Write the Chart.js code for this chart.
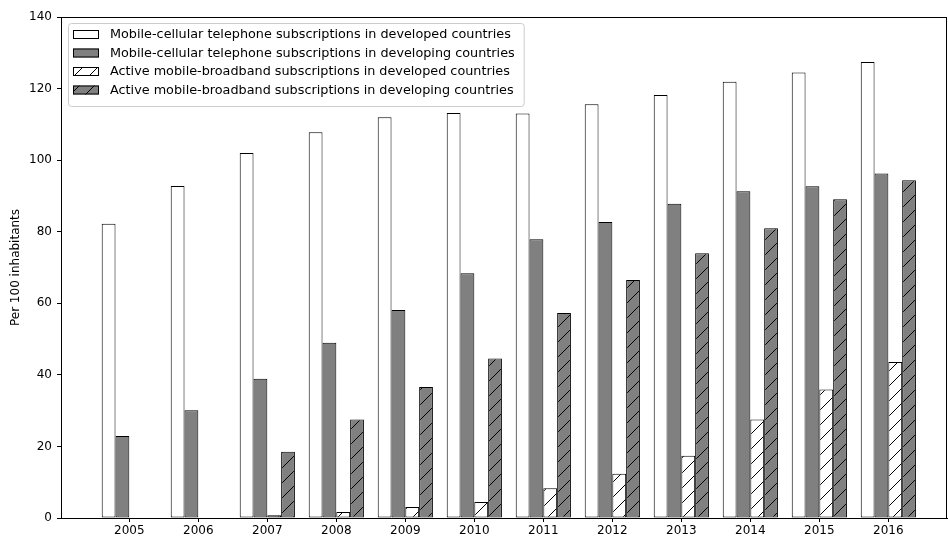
<!DOCTYPE html>
<html>
<head>
<meta charset="utf-8">
<script src="https://cdn.jsdelivr.net/npm/chart.js@4/dist/chart.umd.min.js"></script>
<style>
  body { margin: 0; background: #fff; }
  #wrap { width: 948px; height: 537px; position: relative; }
</style>
</head>
<body>
<div id="wrap"><canvas id="myChart"></canvas></div>
<script>
let years = [2005, 2006, 2007, 2008, 2009, 2010, 2011, 2012, 2013, 2014, 2015, 2016];
let cellDeveloped = [82.2, 92.8, 102.0, 107.8, 112.0, 113.2, 113.0, 115.6, 118.2, 121.9, 124.5, 127.4];
let cellDeveloping = [22.9, 30.1, 38.9, 49.0, 58.1, 68.4, 77.9, 82.7, 87.8, 91.3, 92.7, 96.3];
let mbbDeveloped = [null, null, 0.8, 1.7, 3.1, 4.5, 8.3, 12.4, 17.4, 27.5, 35.9, 43.6];
let mbbDeveloping = [null, null, 18.5, 27.5, 36.6, 44.6, 57.3, 66.5, 74.0, 81.0, 89.1, 94.4];
let yTicks = [0, 20, 40, 60, 80, 100, 120, 140];

let font = "'DejaVu Sans', sans-serif";

// diagonal '/' hatch as a canvas pattern
function hatch(bg) {
  let s = 15;
  let c = document.createElement('canvas');
  c.width = s; c.height = s;
  let g = c.getContext('2d');
  g.fillStyle = bg;
  g.fillRect(0, 0, s, s);
  g.strokeStyle = '#000';
  g.lineWidth = 1;
  g.beginPath();
  g.moveTo(0, s); g.lineTo(s, 0);
  g.moveTo(-2, 2); g.lineTo(2, -2);
  g.moveTo(s - 2, s + 2); g.lineTo(s + 2, s - 2);
  g.stroke();
  return g.createPattern(c, 'repeat');
}

function pts(vals) {
  return years.map((yr, i) => ({ x: yr, y: vals[i] }));
}

let series = [
  { label: 'Mobile-cellular telephone subscriptions in developed countries', vals: cellDeveloped, fill: '#ffffff' },
  { label: 'Mobile-cellular telephone subscriptions in developing countries', vals: cellDeveloping, fill: '#808080' },
  { label: 'Active mobile-broadband subscriptions in developed countries', vals: mbbDeveloped, fill: hatch('#ffffff') },
  { label: 'Active mobile-broadband subscriptions in developing countries', vals: mbbDeveloping, fill: hatch('#808080') }
];

// frame around the plot + legend inside the upper left corner
let framePlugin = {
  id: 'frameAndLegend',
  afterDraw(chart) {
    let ctx = chart.ctx;
    let a = chart.chartArea;
    ctx.save();
    ctx.strokeStyle = '#000';
    ctx.lineWidth = 1;
    ctx.strokeRect(Math.round(a.left) + 0.5, Math.round(a.top) + 0.5,
      Math.round(a.right - a.left) - 1, Math.round(a.bottom - a.top));

    ctx.font = '12.8px ' + font;
    let maxW = 0;
    series.forEach(s => { maxW = Math.max(maxW, ctx.measureText(s.label).width); });
    let lx = a.left + 7, ly = a.top + 6;
    let rowH = 18.5;
    let w = 42 + maxW + 9, h = 8 + rowH * series.length + 1;
    ctx.beginPath();
    ctx.roundRect(lx + 0.5, ly + 0.5, w, h, 3);
    ctx.fillStyle = 'rgba(255,255,255,0.8)';
    ctx.fill();
    ctx.strokeStyle = '#cccccc';
    ctx.stroke();
    series.forEach((s, i) => {
      let cy = ly + 11.5 + i * rowH;
      ctx.fillStyle = s.fill;
      ctx.fillRect(lx + 5, cy - 4.5, 26, 9);
      ctx.strokeStyle = '#000';
      ctx.strokeRect(lx + 5.5, cy - 4, 25, 8);
      ctx.fillStyle = '#000';
      ctx.textBaseline = 'middle';
      ctx.textAlign = 'left';
      ctx.fillText(s.label, lx + 42, cy + 0.5);
    });
    ctx.restore();
  }
};

let chart1 = new Chart(document.getElementById('myChart').getContext('2d'), {
  type: 'bar',
  data: {
    datasets: series.map(s => ({
      label: s.label,
      data: pts(s.vals),
      backgroundColor: s.fill,
      borderColor: '#000',
      borderWidth: 1,
      borderSkipped: false,
      categoryPercentage: 0.8,
      barPercentage: 1.0
    }))
  },
  options: {
    responsive: true,
    maintainAspectRatio: false,
    animation: false,
    layout: { padding: { top: 17, right: 1, bottom: 0, left: 0 } },
    plugins: {
      legend: { display: false },
      tooltip: { enabled: false }
    },
    scales: {
      x: {
        type: 'linear',
        offset: false,
        min: 2004.01,
        max: 2016.85,
        afterBuildTicks(scale) { scale.ticks = years.map(v => ({ value: v })); },
        afterFit(scale) { scale.height = 19; },
        grid: { offset: false, drawOnChartArea: false, drawTicks: true, tickLength: 4, color: '#000' },
        border: { display: true, color: '#000' },
        ticks: {
          color: '#000',
          font: { family: font, size: 12 },
          padding: 2,
          maxRotation: 0,
          autoSkip: false,
          callback: v => String(v)
        }
      },
      y: {
        min: 0,
        max: 140,
        afterBuildTicks(scale) { scale.ticks = yTicks.map(v => ({ value: v })); },
        afterFit(scale) { scale.width = 61; },
        grid: { drawOnChartArea: false, drawTicks: true, tickLength: 4, color: '#000' },
        border: { display: true, color: '#000' },
        ticks: {
          color: '#000',
          font: { family: font, size: 12 },
          padding: 5
        },
        title: {
          display: true,
          text: 'Per 100 inhabitants',
          color: '#000',
          font: { family: font, size: 12 },
          padding: { top: 9, bottom: 0 }
        }
      }
    }
  },
  plugins: [framePlugin]
});
</script>
</body>
</html>
